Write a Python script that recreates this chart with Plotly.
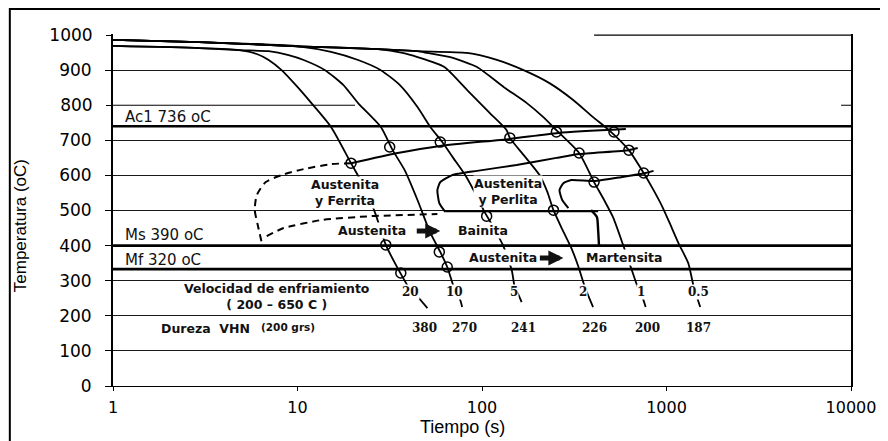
import numpy as np
import plotly.graph_objects as go

# ---------------- data (time in s, temperature in °C) ----------------
rate_labels = ["20", "10", "5", "2", "1", "0.5"]
hardness_labels = ["380", "270", "241", "226", "200", "187"]

# cooling curves
t_r20 = [1, 2.93, 4.82, 6.02, 6.98, 8.2, 9.88, 11.9, 15.2, 19.5, 23.5, 26.6, 30.1, 34.9, 41.0, 45.3, 50.6]
T_r20 = [969, 963, 957, 946, 929, 900, 855, 806, 738, 635, 558, 487, 402, 336, 273, 251, 222]

t_r10 = [1, 2.93, 4.82, 6.98, 8.95, 10.8, 14.1, 17.7, 21.3, 28.3, 32.8, 38.1, 44.7, 52.5, 59.4, 64.8, 70.7, 76.2, 78.1]
T_r10 = [969, 963, 957, 954, 943, 929, 900, 858, 806, 738, 672, 615, 530, 436, 382, 339, 279, 245, 225]

t_r5 = [1, 2.93, 10.1, 15.2, 21.3, 28.3, 35.8, 44.7, 52.5, 60.9, 69.8, 81.1, 91.7, 102.5, 116, 129.7, 145, 150.4, 158, 164]
T_r5 = [986, 980, 968, 952, 929, 900, 858, 795, 738, 695, 650, 601, 550, 499, 450, 402, 330, 282, 259, 239]

t_r2 = [1, 2.93, 10.1, 27.3, 37.1, 44.7, 62.5, 83.1, 110, 136, 141.5, 170, 205, 226, 244, 272, 305, 332, 358, 381, 400]
T_r2 = [986, 980, 968, 960, 949, 937, 909, 843, 778, 729, 707, 655, 601, 553, 501, 447, 393, 342, 288, 251, 225]

t_r1 = [1, 2.93, 10.1, 27.3, 44.7, 50.6, 67.3, 94.0, 131, 175, 215, 253, 336, 405, 459, 513, 587, 640, 698, 743, 771]
T_r1 = [986, 980, 968, 960, 954, 949, 937, 909, 852, 806, 766, 729, 664, 581, 530, 481, 396, 339, 282, 251, 225]

t_r05 = [1, 2.93, 10.1, 27.3, 44.7, 83.1, 120.4, 168, 232, 312, 400, 488, 625, 752, 851, 951, 1051, 1161, 1312, 1397, 1468, 1524]
T_r05 = [986, 980, 968, 960, 954, 949, 929, 900, 863, 815, 766, 729, 672, 607, 558, 510, 459, 407, 350, 288, 251, 225]

# transformation points (circles)
circ_t = [19.5, 31.6, 59.4, 141.5, 253, 519, 336, 625, 405, 752, 244, 106, 30.1, 36.3, 58.7, 64.8]
circ_T = [635, 681, 695, 707, 724, 724, 664, 672, 581, 607, 501, 484, 402, 322, 382, 339]

# ferrite start line
fer_t = [19.5, 34.9, 59.4, 141.5, 259, 602]
fer_T = [635, 664, 684, 704, 721, 732]

# pearlite start line (with rounded corner)
pea_t = [63.2, 58.7, 57.3, 59.4, 69.0, 94.0, 154, 253, 336, 625, 698]
pea_T = [496, 521, 558, 581, 601, 613, 630, 650, 661, 672, 678]

# bainite start (horizontal)
bai_t = [63.2, 426]
bai_T = [498, 498]

# second pearlite line
p2_t = [294, 272, 263, 276, 305, 405, 566, 771, 851]
p2_T = [507, 530, 558, 578, 587, 584, 595, 607, 613]

# bainite finish
bf_t = [390, 420, 426, 431]
bf_T = [501, 481, 444, 396]

# dashed nose (ferrite start, extrapolated)
nose_t = [19.5, 15.2, 10.8, 8.2, 6.73, 6.02, 5.87, 6.09, 6.41]
nose_T = [635, 632, 618, 601, 581, 544, 501, 459, 407]
low_t = [6.81, 8.41, 13.5, 25.0, 57.3]
low_T = [427, 450, 473, 484, 490]

# critical temperature lines
ref_T = [740, 400, 333]
ref_labels = ["Ac1 736 oC", "Ms 390 oC", "Mf 320 oC"]

# axis ticks
x_tick_vals = [1, 10, 100, 1000, 10000]
x_tick_text = ["1", "10", "100", "1000", "10000"]
y_grid_vals = [0, 100, 200, 300, 400, 500, 600, 700, 900]
y2_tick_vals = [800, 1000]

# partial grid lines (as scanned)
grid800_t = [1, 20.5]
grid800_right_t = [8830, 10000]
grid1000_t = [405, 10000]

# ---------------- figure ----------------
fig = go.Figure()


def add_line(t, T, width=1.8, dash=None, shape="spline", smoothing=0.6, yaxis="y"):
    fig.add_trace(go.Scatter(
        x=t, y=T, mode="lines", yaxis=yaxis,
        line=dict(color="black", width=width, dash=dash, shape=shape, smoothing=smoothing),
        hoverinfo="skip", showlegend=False))


# partial grid lines on the secondary axis
add_line(grid800_t, [800, 800], width=1, shape="linear", yaxis="y2")
add_line(grid800_right_t, [800, 800], width=1, shape="linear", yaxis="y2")
add_line(grid1000_t, [1000, 1000], width=1.2, shape="linear", yaxis="y2")

# critical lines
for T in ref_T:
    add_line([1, 10000], [T, T], width=2.6, shape="linear")

# cooling curves
for t, T in [(t_r20, T_r20), (t_r10, T_r10), (t_r5, T_r5), (t_r2, T_r2), (t_r1, T_r1), (t_r05, T_r05)]:
    add_line(t, T, width=1.8, smoothing=0.6)

# transformation lines
add_line(fer_t, fer_T, width=2)
add_line(pea_t, pea_T, width=2, smoothing=0.5)
add_line(bai_t, bai_T, width=2.2, shape="linear")
add_line(p2_t, p2_T, width=2, smoothing=0.5)
add_line(bf_t, bf_T, width=2.4, smoothing=0.5)
add_line(nose_t, nose_T, width=2, dash="7px,5px", smoothing=0.7)
add_line(low_t, low_T, width=2, dash="7px,5px", smoothing=0.5)

# circles
fig.add_trace(go.Scatter(
    x=circ_t, y=circ_T, mode="markers",
    marker=dict(symbol="circle-open", size=10, color="black", line=dict(width=1.5)),
    hoverinfo="skip", showlegend=False))

annotations = []
lg = np.log10

bold = dict(family="DejaVu Sans", size=12.5, color="#111", weight="bold")
serif = dict(family="DejaVu Serif", size=12, color="#111", weight="bold")


def txt(x, y, s, font, bg=None, xanchor="center"):
    a = dict(x=lg(x), y=y, xref="x", yref="y", text=s, showarrow=False,
             font=font, xanchor=xanchor, yanchor="middle", borderpad=0)
    if bg:
        a["bgcolor"] = bg
    annotations.append(a)


# labels of critical lines
for T, lab, yy in zip(ref_T, ref_labels, [766, 430, 359]):
    txt(1.14, yy, lab, dict(family="DejaVu Sans", size=15, color="#111"), xanchor="left")

# phase region labels
txt(18.1, 551, "Austenita<br>y Ferrita", bold, bg="white")
txt(138, 554, "Austenita<br>y Perlita", bold, bg="white")
txt(25.3, 442, "Austenita", bold, bg="white")
txt(101, 444, "Bainita", bold, bg="white")
txt(130, 365, "Austenita", bold, bg="white")
txt(595, 365, "Martensita", bold, bg="white")

# arrows
for xh, yh in [(59.4, 442), (276, 365)]:
    annotations.append(dict(x=lg(xh), y=yh, xref="x", yref="y", text="", showarrow=True,
                            ax=-25, ay=0, arrowhead=2, arrowsize=0.6, arrowwidth=5,
                            arrowcolor="#111", standoff=0))

# cooling-rate legend text
txt(7.7, 256, "Velocidad de enfriamiento<br>( 200 – 650 C )", bold)
txt(1.8, 165, "Dureza  VHN", bold, xanchor="left")
txt(6.3, 168, "(200 grs)", dict(family="DejaVu Sans", size=10.5, color="#111", weight="bold"), xanchor="left")

rate_t = [41.0, 70.7, 148.6, 353, 725, 1486]
hard_t = [48.8, 80, 168, 405, 790, 1486]
for x, lab in zip(rate_t, rate_labels):
    txt(x, 268, lab, serif, bg="white")
for x, lab in zip(hard_t, hardness_labels):
    txt(x, 165, lab, serif)

# axis titles
annotations.append(dict(x=-0.125, y=0.456, xref="paper", yref="paper", text="Temperatura (oC)",
                        showarrow=False, textangle=-90, xanchor="center", yanchor="middle",
                        font=dict(family="Liberation Sans", size=17, color="black")))
annotations.append(dict(x=0.473, y=-0.116, xref="paper", yref="paper", text="Tiempo (s)",
                        showarrow=False, xanchor="center", yanchor="middle",
                        font=dict(family="Liberation Sans", size=18, color="black")))

tickfont = dict(family="DejaVu Sans", size=17, color="black")
xtickfont = dict(family="DejaVu Sans", size=16, color="black")

# the page body adds an 8px offset, so the figure is sized to end at the window edge
fig.update_layout(
    width=880, height=433,
    margin=dict(l=105, r=31, t=26, b=55),
    paper_bgcolor="white", plot_bgcolor="white",
    showlegend=False,
    annotations=annotations,
    xaxis=dict(type="log", range=[0, 4], tickvals=x_tick_vals, ticktext=x_tick_text,
               showgrid=False, showline=True, linecolor="black", linewidth=1.2,
               ticks="outside", ticklen=4, tickcolor="black", tickfont=xtickfont,
               ticklabelstandoff=3, zeroline=False),
    yaxis=dict(range=[0, 1003], tickvals=y_grid_vals, showgrid=True, gridcolor="#1a1a1a",
               gridwidth=1, showline=True, mirror=True, linecolor="black", linewidth=2,
               ticks="outside", ticklen=6, tickcolor="black", tickfont=tickfont,
               ticklabelstandoff=10, zeroline=False),
    yaxis2=dict(range=[0, 1003], overlaying="y", side="left", anchor="x",
                tickvals=y2_tick_vals, showgrid=False, showline=False, zeroline=False,
                ticks="outside", ticklen=6, tickcolor="black", tickfont=tickfont,
                ticklabelstandoff=10),
    shapes=[dict(type="rect", xref="paper", yref="paper",
                 x0=-0.1398, x1=1.06, y0=-0.2, y1=1.071,
                 line=dict(color="black", width=2), layer="above")],
)

fig.write_html("out.html")
